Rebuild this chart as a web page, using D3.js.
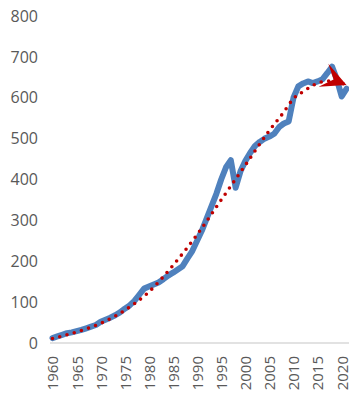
<!DOCTYPE html>
<html>
<head>
<meta charset="utf-8">
<script src="https://cdn.jsdelivr.net/npm/d3@7"></script>
<style>
  html, body { margin: 0; padding: 0; background: #ffffff; }
  svg { display: block; }
  text { font-family: "Open Sans", "Liberation Sans", sans-serif; fill: #595959; }
</style>
</head>
<body>
<svg id="chart" width="349" height="398"></svg>
<script>
// ---- data ----
const years = d3.range(1960, 2022);
const values = [
  12, 16, 20, 24, 26, 29, 32, 36, 40, 44,
  52, 57, 62, 68, 75, 84, 92, 103, 118, 133,
  138, 143, 148, 156, 165, 172, 180, 188, 207, 225,
  250, 275, 305, 335, 365, 400, 430, 447, 380, 420,
  445, 465, 482, 492, 500, 505, 512, 528, 537, 542,
  600, 628, 635, 640, 636, 640, 645, 660, 676, 645,
  603, 622
];
const trendYears  = [1960, 1965, 1970, 1975, 1980, 1985, 1990, 1995, 2000, 2005, 2008, 2010, 2012, 2014, 2016, 2018, 2021];
const trendValues = [11, 27, 48, 80, 125, 190, 265, 350, 435, 520, 565, 598, 615, 630, 639, 641, 631];
const yTicks = [0, 100, 200, 300, 400, 500, 600, 700, 800];
const xTicks = [1960, 1965, 1970, 1975, 1980, 1985, 1990, 1995, 2000, 2005, 2010, 2015, 2020];

const series = years.map((yr, i) => ({ x: yr, y: values[i] }));
const trend = trendYears.map((yr, i) => ({ x: yr, y: trendValues[i] }));

// ---- layout ----
const svg = d3.select("#chart");
const x = d3.scaleLinear().domain([1960, 2021]).range([52.5, 346.5]);
const y = d3.scaleLinear().domain([0, 800]).range([343, 16]);

// baseline
svg.append("line")
  .attr("x1", 50).attr("x2", 349)
  .attr("y1", y(0)).attr("y2", y(0))
  .attr("stroke", "#d9d9d9").attr("stroke-width", 1.5);

// y axis labels
const yAxis = svg.append("g")
  .attr("transform", "translate(48,0)")
  .call(d3.axisLeft(y).tickValues(yTicks).tickSize(0).tickPadding(10).tickFormat(d3.format("d")));
yAxis.select(".domain").remove();
yAxis.selectAll("text")
  .style("font-family", "'Open Sans', sans-serif")
  .style("font-size", "16px")
  .attr("fill", "#595959");

// x axis labels
const xAxis = svg.append("g")
  .attr("transform", `translate(0,${y(0)})`)
  .call(d3.axisBottom(x).tickValues(xTicks).tickSize(0).tickFormat(d3.format("d")));
xAxis.select(".domain").remove();
xAxis.selectAll("text")
  .style("font-family", "'Open Sans', sans-serif")
  .style("font-size", "15px")
  .attr("fill", "#595959")
  .attr("transform", "rotate(-90)")
  .attr("text-anchor", "end")
  .attr("x", -13)
  .attr("y", 0)
  .attr("dy", "0.36em");

// arrow marker
const defs = svg.append("defs");
defs.append("marker")
  .attr("id", "stealth")
  .attr("markerUnits", "userSpaceOnUse")
  .attr("viewBox", "-26 -14 28 28")
  .attr("markerWidth", 28).attr("markerHeight", 28)
  .attr("refX", 0).attr("refY", 0)
  .attr("orient", "auto")
  .append("path")
  .attr("d", "M0,0 L-25,-12.5 L-14,0 L-25,12.5 Z")
  .attr("fill", "#c00000");

// data line
svg.append("path")
  .datum(series)
  .attr("fill", "none")
  .attr("stroke", "#4f81bd")
  .attr("stroke-width", 6)
  .attr("stroke-linejoin", "round")
  .attr("stroke-linecap", "round")
  .attr("d", d3.line().x(d => x(d.x)).y(d => y(d.y)));

// trend line (dotted with arrow)
svg.append("path")
  .datum(trend)
  .attr("fill", "none")
  .attr("stroke", "#c00000")
  .attr("stroke-width", 3.6)
  .attr("stroke-linecap", "round")
  .attr("stroke-dasharray", "0 7.5")
  .attr("marker-end", "url(#stealth)")
  .attr("d", d3.line().curve(d3.curveMonotoneX).x(d => x(d.x)).y(d => y(d.y)));
</script>
</body>
</html>
